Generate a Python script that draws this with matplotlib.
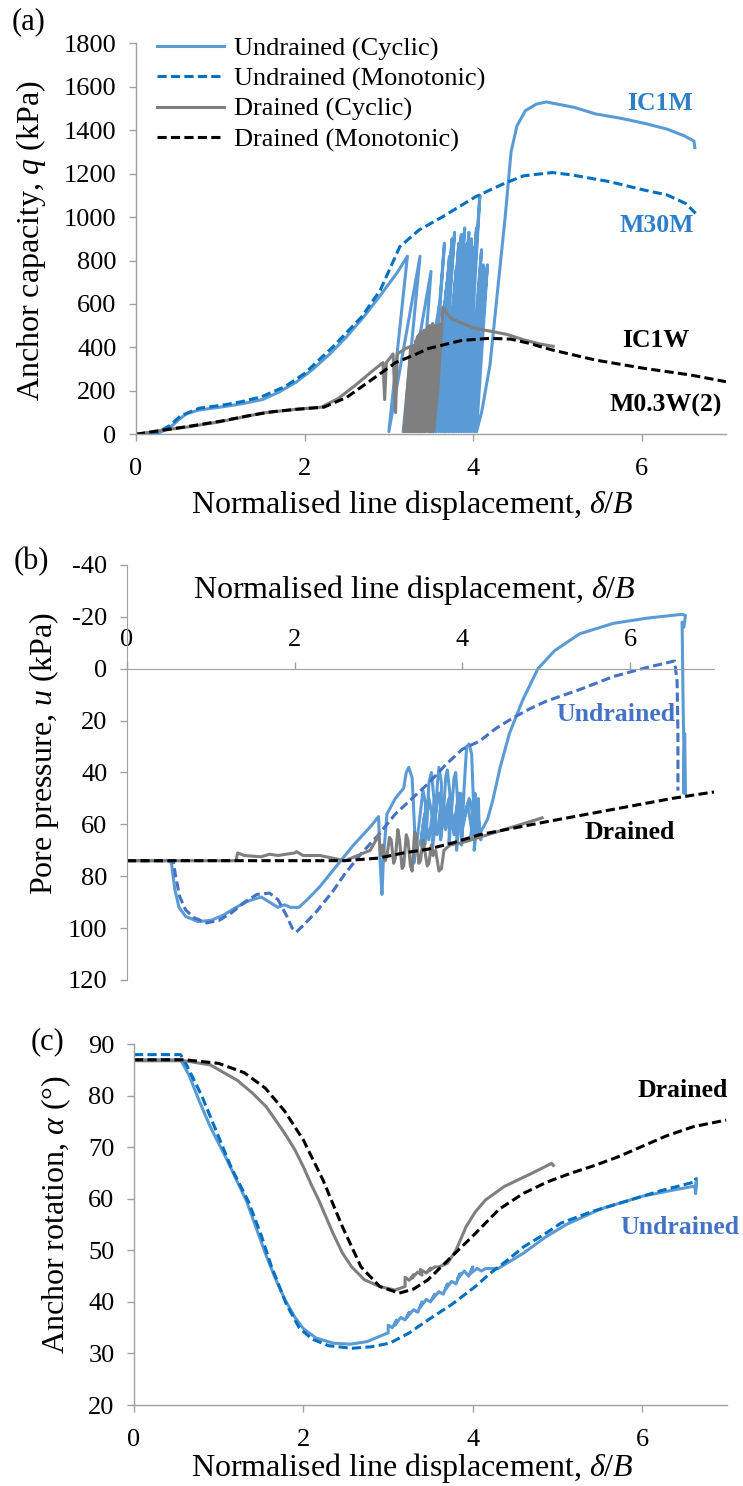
import matplotlib
matplotlib.use("Agg")
import matplotlib.pyplot as plt

# ===============================
# Data
# ===============================
# (a) anchor capacity q (kPa) vs delta/B
a_ucyc_x = [0, 0.25, 0.4, 0.5, 0.6, 0.75, 1.0, 1.25, 1.5, 1.7, 1.9, 2.1, 2.3, 2.5, 2.7, 2.9, 3.1, 3.22,
            3.0, 3.37, 3.17, 3.5, 3.36, 3.6, 3.48, 3.66, 3.5, 3.69, 3.53, 3.72, 3.56, 3.75, 3.59, 3.78,
            3.62, 3.8, 3.65, 3.83, 3.68, 3.86, 3.71, 3.9, 3.74, 3.93, 3.77, 3.95, 3.8, 3.98, 3.83, 4.01,
            3.86, 4.04, 3.89, 4.08, 3.92, 4.1, 3.95, 4.12, 3.98, 4.15, 4.01, 4.17, 4.04,
            4.1, 4.2, 4.3, 4.38, 4.45, 4.52, 4.62, 4.75, 4.87, 5.0, 5.2, 5.45, 5.75, 6.05, 6.3, 6.5, 6.62, 6.63]
a_ucyc_q = [0, 2, 30, 65, 95, 112, 125, 140, 160, 195, 240, 300, 370, 450, 540, 640, 745, 820,
            12, 820, 12, 750, 12, 600, 12, 880, 12, 700, 12, 820, 12, 900, 12, 930,
            12, 760, 12, 880, 12, 920, 12, 950, 12, 880, 12, 930, 12, 900, 12, 860,
            12, 950, 12, 1100, 12, 850, 12, 780, 12, 760, 12, 780, 12,
            100, 320, 700, 1000, 1300, 1420, 1490, 1520, 1530, 1520, 1505, 1475, 1455, 1430, 1405, 1375, 1350, 1320]

a_umono_x = [0, 0.24, 0.4, 0.53, 0.75, 1.04, 1.25, 1.49, 1.77, 2.0, 2.34, 2.68, 2.9, 3.13, 3.36, 3.64,
             4.03, 4.37, 4.6, 4.94, 5.17, 5.62, 6.02, 6.3, 6.52, 6.64]
a_umono_q = [0, 5, 40, 85, 120, 135, 150, 173, 220, 280, 404, 542, 665, 864, 941, 1002,
             1094, 1155, 1190, 1205, 1194, 1163, 1125, 1102, 1063, 1017]

a_dcyc_x = [0, 0.3, 0.6, 1.0, 1.5, 1.9, 2.2, 2.4, 2.6, 2.8, 2.93, 2.95, 2.97, 3.05, 3.08, 3.1, 3.2, 3.26,
            3.18, 3.3, 3.2, 3.32, 3.22, 3.34, 3.24, 3.36, 3.26, 3.38, 3.28, 3.4, 3.3, 3.42, 3.32, 3.44,
            3.34, 3.46, 3.36, 3.48, 3.38, 3.5, 3.4, 3.52, 3.42, 3.54, 3.44, 3.56, 3.47, 3.58, 3.5, 3.6, 3.53,
            3.58, 3.62, 3.64, 3.68, 3.75, 3.85, 4.0, 4.2, 4.4, 4.6, 4.8, 4.95]
a_dcyc_q = [0, 18, 33, 58, 98, 115, 125, 165, 225, 290, 330, 160, 330, 370, 100, 370, 395, 405,
            12, 410, 12, 430, 12, 450, 12, 460, 12, 470, 12, 470, 12, 480, 12, 480,
            12, 490, 12, 500, 12, 500, 12, 510, 12, 500, 12, 490, 12, 500, 12, 505, 12,
            200, 450, 586, 560, 530, 515, 490, 475, 460, 435, 415, 405]

a_dmono_x = [0, 0.3, 0.6, 1.0, 1.33, 1.6, 1.9, 2.23, 2.5, 2.9, 3.08, 3.3, 3.47, 3.86, 4.2, 4.45, 4.65,
             4.94, 5.45, 6.02, 6.58, 7.0]
a_dmono_q = [0, 18, 35, 60, 85, 103, 115, 125, 170, 280, 330, 365, 395, 432, 442, 438, 420,
             388, 342, 304, 273, 242]

# (b) pore pressure u (kPa) vs delta/B
b_ucyc_x = [0, 0.5, 0.53, 0.57, 0.62, 0.7, 0.85, 1.0, 1.15, 1.3, 1.45, 1.6, 1.7, 1.8, 1.88, 1.95, 2.05,
            2.15, 2.3, 2.5, 2.7, 2.9, 3.0, 3.02, 3.04, 3.06, 3.1, 3.2, 3.3,
            3.33, 3.36, 3.4, 3.43, 3.42, 3.46, 3.5, 3.53, 3.56, 3.55, 3.58, 3.6, 3.63, 3.66, 3.64, 3.67,
            3.7, 3.72, 3.75, 3.74, 3.77, 3.8, 3.82, 3.85, 3.84, 3.87, 3.9, 3.92, 3.94, 3.93, 3.96, 3.98,
            4.0, 3.99, 4.02, 4.05, 4.08, 4.11, 4.13, 4.1, 4.13, 4.15, 4.16, 4.14, 4.17, 4.19, 4.2, 4.22,
            4.18, 4.12, 4.06, 4.0, 3.95, 3.9, 3.85, 3.8, 3.75, 3.7, 3.65, 3.6, 3.55, 3.5,
            3.54, 3.6, 3.66, 3.72, 3.78, 3.84, 3.9, 3.96, 4.02, 4.08, 4.14, 4.2,
            4.3, 4.36, 4.45, 4.56, 4.72, 4.9, 5.1, 5.4, 5.8, 6.2, 6.62, 6.66, 6.64, 6.62, 6.63, 6.64,
            6.64, 6.65, 6.66]
b_ucyc_u = [74, 74, 75, 85, 92, 95.5, 97.5, 97, 95, 92, 89.5, 88, 90, 92, 91, 92, 92,
            89, 84, 76, 68, 61, 57, 75, 87, 72, 56, 50, 46,
            40, 38, 42, 62, 75, 66, 55, 47, 52, 68, 58, 44, 40, 50, 70, 62,
            45, 38, 44, 66, 58, 42, 39, 48, 68, 55, 42, 40, 50, 70, 60, 48,
            52, 68, 46, 30, 29, 33, 50, 66, 55, 48, 58, 70, 60, 50, 62, 66,
            55, 64, 52, 62, 50, 64, 52, 62, 50, 64, 54, 66, 56, 68,
            58, 50, 60, 48, 58, 50, 60, 48, 58, 50, 58, 64,
            58, 51, 38, 25, 12, 0, -7, -13.5, -17.5, -19.5, -21, -20.5, -16, -18, 10, 30,
            48, 25, 48]

b_umono_x = [0, 0.55, 0.58, 0.63, 0.7, 0.8, 0.95, 1.1, 1.25, 1.4, 1.55, 1.7, 1.8, 1.9, 1.97, 2.02, 2.1,
             2.25, 2.45, 2.6, 2.8, 3.0, 3.2, 3.4, 3.6, 3.8, 4.0, 4.2, 4.4, 4.6, 4.8, 5.0, 5.4, 5.8,
             6.2, 6.53, 6.56, 6.57, 6.57]
b_umono_u = [74, 74, 80, 88, 93, 96, 98, 97, 94, 90, 87, 86.5, 89, 95, 100, 101.5, 99,
             94, 86, 79, 71, 64, 56, 50, 44, 37, 31, 28, 23, 19, 15.5, 12.5, 8, 3,
             -0.5, -3, 5, 25, 47]

b_dcyc_x = [0, 0.5, 1.0, 1.3, 1.32, 1.4, 1.6, 1.7, 1.8, 2.0, 2.02, 2.1, 2.3, 2.45, 2.6, 2.75, 2.9,
            2.97, 3.0, 3.03, 3.05, 3.08, 3.1, 3.13, 3.15, 3.18, 3.2, 3.23, 3.25, 3.28, 3.3, 3.33, 3.35,
            3.38, 3.4, 3.43, 3.45, 3.48, 3.5, 3.53, 3.55, 3.58, 3.6, 3.63, 3.65, 3.68, 3.72, 3.75,
            3.78, 3.85, 4.0, 4.2, 4.4, 4.6, 4.8, 4.95]
b_dcyc_u = [74, 74, 74, 74, 71, 72, 72.5, 71.5, 72, 71, 70.5, 72, 72, 73, 74, 72, 70,
            66, 64, 72, 68, 74, 72, 65, 66, 75, 73, 62, 66, 77, 76, 64, 66, 76, 78, 63,
            64, 75, 74, 66, 70, 76, 75, 68, 72, 70, 78, 77,
            70, 68, 67, 65, 63, 61, 59, 57.5]

b_dmono_x = [0, 1.0, 2.0, 2.6, 3.0, 3.3, 3.6, 3.9, 4.2, 4.6, 5.0, 5.5, 6.0, 6.5, 7.0]
b_dmono_u = [74, 74, 74, 74, 73, 71, 69.5, 67, 64, 61.5, 59, 56, 53, 50, 47.5]

# (c) anchor rotation alpha (deg) vs delta/B
c_ucyc_x = [0, 0.3, 0.55, 0.65, 0.77, 0.9, 1.1, 1.33, 1.45, 1.56, 1.67, 1.78, 1.9, 2.0, 2.15, 2.35,
            2.55, 2.75, 3.0, 3.0, 3.05, 3.1, 3.08, 3.15, 3.2, 3.25, 3.22, 3.3, 3.35, 3.4, 3.38, 3.45,
            3.5, 3.55, 3.52, 3.6, 3.65, 3.7, 3.68, 3.75, 3.8, 3.85, 3.82, 3.9, 3.95, 4.0, 3.97, 4.05,
            4.1, 4.15, 4.3, 4.6, 4.85, 5.1, 5.5, 6.0, 6.3, 6.62, 6.63, 6.64, 6.63]
c_ucyc_a = [87, 87, 87, 84, 79, 74, 67.5, 59.5, 54, 49, 44.5, 40.5, 37, 34.8, 33, 32,
            31.8, 32.3, 34, 35.5, 35, 36.5, 35.5, 37, 36.5, 38, 37, 38.5, 38, 40, 39, 40.5,
            40, 41.5, 40.5, 42, 41.5, 43.5, 42.5, 44, 43.5, 45.5, 44.5, 46, 45, 46.8, 45.5, 46.5,
            46, 46.5, 46.5, 49.5, 52.5, 55, 58, 60.5, 61.5, 62.5, 61, 64, 62]

c_umono_x = [0, 0.3, 0.55, 0.62, 0.8, 1.0, 1.15, 1.35, 1.5, 1.62, 1.8, 1.95, 2.1, 2.3, 2.57, 2.8,
             3.02, 3.25, 3.47, 3.75, 4.03, 4.2, 4.4, 4.6, 4.85, 5.04, 5.4, 5.8, 6.2, 6.62, 6.63]
c_umono_a = [88, 88, 88, 86, 80, 72, 66, 59.5, 53, 47, 39.5, 35, 32.8, 31.5, 31, 31.3,
             32, 34, 36.5, 39.5, 43, 45.5, 48, 50.7, 53.2, 55.3, 57.5, 59.5, 61.5, 63.3, 64]

c_dcyc_x = [0, 0.6, 0.9, 1.22, 1.4, 1.56, 1.78, 1.9, 2.0, 2.1, 2.18, 2.35, 2.46, 2.57, 2.72, 2.9, 3.08,
            3.2, 3.2, 3.25, 3.3, 3.28, 3.35, 3.4, 3.38, 3.45, 3.5, 3.48, 3.55, 3.6, 3.7, 3.8, 3.92,
            4.03, 4.15, 4.37, 4.7, 4.93, 4.95]
c_dcyc_a = [86.8, 86.8, 86, 83, 80.5, 77.9, 72.7, 69.5, 66.2, 62.5, 59.8, 53.3, 49.5, 46.8, 44.3, 43, 42.3,
            43, 44.8, 44.2, 45.3, 44.6, 45.8, 45.2, 46.3, 45.6, 46.6, 46, 46.8, 46.8, 47.5, 50, 54.6,
            57.5, 59.8, 62.4, 65, 66.9, 66.5]

c_dmono_x = [0, 0.6, 1.0, 1.3, 1.55, 1.78, 2.0, 2.23, 2.46, 2.68, 2.9, 3.13, 3.3, 3.47, 3.75, 4.03,
             4.31, 4.6, 4.88, 5.16, 5.44, 5.72, 6.0, 6.28, 6.6, 6.99]
c_dmono_a = [87, 87, 86.3, 84.5, 81.5, 77, 71.4, 63.7, 54.6, 46.8, 43, 41.7, 42.5, 44.3, 48.8, 53.3,
             58, 61.1, 63.3, 65, 66.5, 68.2, 70.2, 72.2, 74, 75.3]

x_ticks = [0, 2, 4, 6]
legend_labels = ["Undrained (Cyclic)", "Undrained (Monotonic)", "Drained (Cyclic)", "Drained (Monotonic)"]

# ===============================
# Style
# ===============================
plt.rcParams['font.family'] = ['Liberation Serif', 'DejaVu Serif']
plt.rcParams['mathtext.fontset'] = 'custom'
plt.rcParams['mathtext.rm'] = 'Liberation Serif'
plt.rcParams['mathtext.it'] = 'Liberation Serif:italic'
plt.rcParams['axes.unicode_minus'] = False

C_UCYC = '#5B9BD5'
C_UMONO = '#0070C0'
C_UMONO_B = '#4472C4'
C_DCYC = '#7F7F7F'
C_DMONO = 'black'
AX_COL = '#A0A0A0'
LW = 2.2
DASH = (3, 1.4)
TICK_FS = 19
LAB_FS = 23
NOTE_FS = 18.5

W, H = 743, 1486
fig = plt.figure(figsize=(W / 100, H / 100), dpi=100)


def style_axes(ax):
    for s in ['top', 'right']:
        ax.spines[s].set_visible(False)
    for s in ['left', 'bottom']:
        ax.spines[s].set_color(AX_COL)
        ax.spines[s].set_linewidth(1.0)
    ax.tick_params(axis='both', direction='out', length=5, width=1.0, color=AX_COL,
                   labelsize=TICK_FS)
    ax.tick_params(axis='x', pad=12)
    ax.tick_params(axis='y', pad=9)


def plot_four(ax, ucx, ucy, umx, umy, dcx, dcy, dmx, dmy, umono_col):
    ax.plot(ucx, ucy, color=C_UCYC, lw=LW, label=legend_labels[0])
    ax.plot(umx, umy, color=umono_col, lw=LW, dashes=DASH, label=legend_labels[1])
    ax.plot(dcx, dcy, color=C_DCYC, lw=LW, label=legend_labels[2])
    ax.plot(dmx, dmy, color=C_DMONO, lw=LW, dashes=DASH, label=legend_labels[3])


# ===============================
# (a) Anchor capacity
# ===============================
ax1 = fig.add_axes([136 / W, 1 - 434.3 / H, 590 / W, 391 / H])
style_axes(ax1)
plot_four(ax1, a_ucyc_x, a_ucyc_q, a_umono_x, a_umono_q, a_dcyc_x, a_dcyc_q,
          a_dmono_x, a_dmono_q, C_UMONO)
ax1.set_xlim(0, 7)
ax1.set_ylim(0, 1800)
ax1.set_xticks(x_ticks)
ax1.set_yticks(range(0, 1801, 200))
ax1.set_xlabel(r"Normalised line displacement, $\delta/B$", fontsize=LAB_FS)
ax1.xaxis.set_label_coords(0.469, -0.181)
ax1.xaxis.label.set_va('center')
ax1.set_ylabel(r"Anchor capacity, $q$ (kPa)", fontsize=LAB_FS)
ax1.yaxis.set_label_coords(-0.178, 0.495)
ax1.yaxis.label.set_va('center')
ax1.legend(loc='upper left', bbox_to_anchor=(157 / W, 1 - 37 / H), bbox_transform=fig.transFigure,
           frameon=False, fontsize=TICK_FS, handlelength=2.55, handletextpad=0.35,
           labelspacing=0.24, borderpad=0, borderaxespad=0)
ax1.text(6.22, 1525, "IC1M", color='#2E7FC8', fontsize=NOTE_FS, fontweight='bold', ha='center', va='center')
ax1.text(6.18, 959, "M30M", color='#2E7FC8', fontsize=NOTE_FS, fontweight='bold', ha='center', va='center')
ax1.text(6.17, 434, "IC1W", color='black', fontsize=NOTE_FS, fontweight='bold', ha='center', va='center')
ax1.text(6.28, 135, "M0.3W(2)", color='black', fontsize=NOTE_FS, fontweight='bold', ha='center', va='center')

# ===============================
# (b) Pore pressure
# ===============================
ax2 = fig.add_axes([127 / W, 1 - 980 / H, 587 / W, 415 / H])
for s in ['bottom', 'right']:
    ax2.spines[s].set_visible(False)
ax2.spines['left'].set_color(AX_COL)
ax2.spines['top'].set_color(AX_COL)
ax2.spines['top'].set_position(('data', 0))
ax2.xaxis.set_ticks_position('top')
ax2.xaxis.set_label_position('top')
ax2.tick_params(axis='both', direction='out', length=5, width=1.0, color=AX_COL, labelsize=TICK_FS)
ax2.tick_params(axis='x', pad=8)
ax2.tick_params(axis='y', pad=9)
plot_four(ax2, b_ucyc_x, b_ucyc_u, b_umono_x, b_umono_u, b_dcyc_x, b_dcyc_u,
          b_dmono_x, b_dmono_u, C_UMONO_B)
ax2.set_xlim(0, 7)
ax2.set_ylim(120, -40)
ax2.set_xticks(x_ticks)
ax2.set_yticks(range(-40, 121, 20))
ax2.set_xlabel(r"Normalised line displacement, $\delta/B$", fontsize=LAB_FS)
ax2.xaxis.set_label_coords(0.49, 0.94)
ax2.xaxis.label.set_va('center')
ax2.set_ylabel(r"Pore pressure, $u$ (kPa)", fontsize=LAB_FS)
ax2.yaxis.set_label_coords(-0.141, 0.545)
ax2.yaxis.label.set_va('center')
ax2.text(5.83, 17.8, "Undrained", color=C_UMONO_B, fontsize=NOTE_FS, fontweight='bold', ha='center', va='center')
ax2.text(6.0, 63, "Drained", color='black', fontsize=NOTE_FS, fontweight='bold', ha='center', va='center')

# ===============================
# (c) Anchor rotation
# ===============================
ax3 = fig.add_axes([134 / W, 1 - 1405 / H, 593 / W, 360.7 / H])
style_axes(ax3)
plot_four(ax3, c_ucyc_x, c_ucyc_a, c_umono_x, c_umono_a, c_dcyc_x, c_dcyc_a,
          c_dmono_x, c_dmono_a, C_UMONO)
ax3.set_xlim(0, 7)
ax3.set_ylim(20, 90)
ax3.set_xticks(x_ticks)
ax3.set_yticks(range(20, 91, 10))
ax3.set_xlabel(r"Normalised line displacement, $\delta/B$", fontsize=LAB_FS)
ax3.xaxis.set_label_coords(0.47, -0.175)
ax3.xaxis.label.set_va('center')
ax3.set_ylabel(r"Anchor rotation, $\alpha$ (°)", fontsize=LAB_FS)
ax3.yaxis.set_label_coords(-0.131, 0.527)
ax3.yaxis.label.set_va('center')
ax3.text(6.48, 81.1, "Drained", color='black', fontsize=NOTE_FS, fontweight='bold', ha='center', va='center')
ax3.text(7.15, 54.5, "Undrained", color=C_UMONO_B, fontsize=NOTE_FS, fontweight='bold', ha='right',
         va='center', clip_on=False)

# panel letters
fig.text(29 / W, 1 - 22 / H, "(a)", fontsize=22, ha='center', va='center')
fig.text(31 / W, 1 - 562 / H, "(b)", fontsize=22, ha='center', va='center')
fig.text(47 / W, 1 - 1042 / H, "(c)", fontsize=22, ha='center', va='center')

fig.savefig("out.png", dpi=100)
